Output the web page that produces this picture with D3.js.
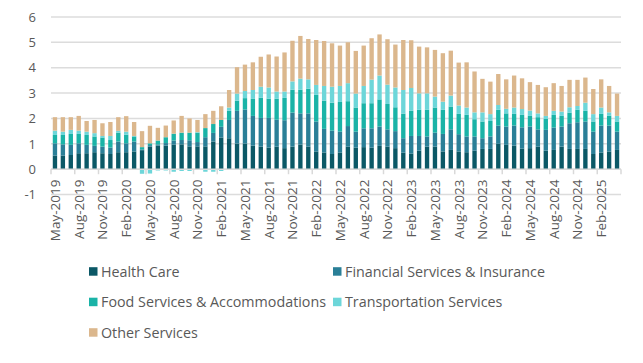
<!DOCTYPE html>
<html>
<head>
<meta charset="utf-8">
<script src="https://cdn.jsdelivr.net/npm/d3@7"></script>
<style>
  html, body { margin: 0; padding: 0; background: #ffffff; }
  svg { display: block; }
  text { font-family: "Open Sans", sans-serif; fill: #595959; }
</style>
</head>
<body>
<svg id="chart" width="643" height="363"></svg>
<script>
// ---------- data ----------
const months = [
  "May-2019","Jun-2019","Jul-2019","Aug-2019","Sep-2019","Oct-2019","Nov-2019","Dec-2019",
  "Jan-2020","Feb-2020","Mar-2020","Apr-2020","May-2020","Jun-2020","Jul-2020","Aug-2020",
  "Sep-2020","Oct-2020","Nov-2020","Dec-2020","Jan-2021","Feb-2021","Mar-2021","Apr-2021",
  "May-2021","Jun-2021","Jul-2021","Aug-2021","Sep-2021","Oct-2021","Nov-2021","Dec-2021",
  "Jan-2022","Feb-2022","Mar-2022","Apr-2022","May-2022","Jun-2022","Jul-2022","Aug-2022",
  "Sep-2022","Oct-2022","Nov-2022","Dec-2022","Jan-2023","Feb-2023","Mar-2023","Apr-2023",
  "May-2023","Jun-2023","Jul-2023","Aug-2023","Sep-2023","Oct-2023","Nov-2023","Dec-2023",
  "Jan-2024","Feb-2024","Mar-2024","Apr-2024","May-2024","Jun-2024","Jul-2024","Aug-2024",
  "Sep-2024","Oct-2024","Nov-2024","Dec-2024","Jan-2025","Feb-2025","Mar-2025","Apr-2025"
];
const tickLabels = [
  "May-2019","Aug-2019","Nov-2019","Feb-2020","May-2020","Aug-2020","Nov-2020","Feb-2021",
  "May-2021","Aug-2021","Nov-2021","Feb-2022","May-2022","Aug-2022","Nov-2022","Feb-2023",
  "May-2023","Aug-2023","Nov-2023","Feb-2024","May-2024","Aug-2024","Nov-2024","Feb-2025"
];
const yTicks = [-1, 0, 1, 2, 3, 4, 5, 6];

const seriesNames = ["Health Care", "Financial Services & Insurance",
  "Food Services & Accommodations", "Transportation Services", "Other Services"];

const healthCare = [
  0.54,0.54,0.56,0.63,0.63,0.67,0.63,0.60,0.67,0.67,0.70,0.75,0.89,0.93,0.93,0.97,
  0.98,0.90,0.90,0.90,1.09,1.25,1.22,1.01,1.01,0.93,0.89,0.85,0.89,0.83,0.89,0.97,
  0.89,0.70,0.66,0.60,0.66,0.89,0.85,0.87,0.85,0.92,0.89,0.83,0.65,0.62,0.73,0.89,
  0.89,0.70,0.76,0.70,0.67,0.73,0.80,0.80,1.00,0.96,0.93,0.81,0.83,0.89,0.73,0.76,
  0.89,0.80,0.80,0.80,0.60,0.66,0.70,0.76
];
const financial = [
  0.48,0.44,0.40,0.39,0.33,0.25,0.26,0.25,0.42,0.35,0.39,0.03,0.06,0.05,0.10,0.16,
  0.17,0.24,0.17,0.36,0.34,0.42,0.72,1.29,1.34,1.17,1.13,1.17,1.06,1.10,1.34,1.23,
  1.31,1.18,0.93,0.92,0.82,0.81,0.63,0.74,0.76,0.76,0.68,0.67,0.57,0.69,0.58,0.40,
  0.55,0.69,0.81,0.68,0.62,0.56,0.42,0.49,0.72,0.72,0.79,0.84,0.85,0.68,0.82,0.88,
  0.79,1.01,1.05,1.08,0.88,1.06,1.02,0.72
];
const foodServices = [
  0.33,0.37,0.43,0.37,0.39,0.37,0.36,0.30,0.35,0.34,0.20,0.09,0.07,0.15,0.23,0.27,
  0.29,0.30,0.37,0.36,0.35,0.27,0.36,0.40,0.45,0.67,0.80,0.76,0.83,0.88,0.90,0.93,
  0.97,1.05,1.11,1.10,1.17,0.98,0.95,0.99,0.99,1.07,1.00,0.94,0.97,0.99,1.03,1.05,
  0.99,0.95,0.90,0.80,0.85,0.68,0.66,0.61,0.62,0.52,0.46,0.49,0.42,0.48,0.43,0.50,
  0.42,0.42,0.49,0.42,0.40,0.46,0.39,0.40
];
const transportation = [
  0.17,0.13,0.16,0.13,0.13,0.13,0.06,0.16,0.07,0.12,0.02,-0.18,-0.17,-0.05,-0.05,-0.10,
  -0.07,-0.07,0.02,-0.10,-0.10,-0.07,0.13,0.28,0.28,0.35,0.43,0.44,0.28,0.25,0.33,0.44,
  0.37,0.39,0.58,0.63,0.63,0.71,0.55,0.68,0.93,0.94,0.76,0.78,0.93,0.90,0.65,0.65,
  0.43,0.32,0.43,0.33,0.29,0.27,0.36,0.27,0.19,0.18,0.25,0.23,0.21,0.15,0.12,0.16,
  0.17,0.21,0.15,0.32,0.29,0.25,0.13,0.22
];
const otherServices = [
  0.53,0.57,0.50,0.58,0.42,0.52,0.50,0.55,0.54,0.61,0.55,0.63,0.69,0.50,0.46,0.52,
  0.66,0.56,0.48,0.55,0.52,0.54,0.69,1.04,1.04,1.09,1.18,1.30,1.38,1.54,1.60,1.68,
  1.59,1.77,1.77,1.71,1.59,1.61,1.68,1.59,1.63,1.62,1.79,1.69,1.97,1.88,1.84,1.81,
  1.84,1.91,1.77,1.69,1.78,1.61,1.32,1.28,1.22,1.16,1.26,1.21,1.12,1.12,1.13,1.09,
  1.01,1.08,1.03,0.99,0.99,1.11,1.04,0.88
];
const colors = ["#0b5866", "#2a7f97", "#1ab3a7", "#6dd6d9", "#dbb78d"];

// ---------- build ----------
const keys = ["h", "f", "fo", "t", "o"];
const rows = months.map((m, i) => ({
  month: m, h: healthCare[i], f: financial[i], fo: foodServices[i],
  t: transportation[i], o: otherServices[i]
}));
const stacked = d3.stack().keys(keys).offset(d3.stackOffsetDiverging)(rows);

const svg = d3.select("#chart");
const left = 51, right = 621;

const x = d3.scaleBand().domain(months).range([left, right])
  .paddingInner(0.45).paddingOuter(0.225);
const y = d3.scaleLinear().domain([-1, 6]).range([194.6, 16.9]);

// gridlines
svg.append("g").selectAll("line").data(yTicks).join("line")
  .attr("x1", left).attr("x2", right)
  .attr("y1", d => y(d)).attr("y2", d => y(d))
  .attr("stroke", "#dcdcdc").attr("stroke-width", 1.5);

// y labels
svg.append("g").selectAll("text").data(yTicks).join("text")
  .attr("x", 36).attr("y", d => y(d)).attr("dy", "0.36em")
  .attr("text-anchor", "end").attr("font-size", 13).text(d => d);

// bars
svg.append("g").selectAll("g").data(stacked).join("g")
  .attr("fill", (d, i) => colors[i])
  .selectAll("rect").data(d => d).join("rect")
  .attr("x", d => x(d.data.month))
  .attr("width", x.bandwidth())
  .attr("y", d => y(Math.max(d[0], d[1])))
  .attr("height", d => Math.abs(y(d[0]) - y(d[1])));

// x axis line with ticks at every 3rd band boundary
const step = x.step();
const gap = step - x.bandwidth();
const tickPos = months.map((m, i) => i).filter(i => i % 3 === 0)
  .map(i => x(months[i]) - gap / 2).concat([right]);
svg.append("line").attr("x1", left).attr("x2", right)
  .attr("y1", y(0)).attr("y2", y(0))
  .attr("stroke", "#d9d9d9").attr("stroke-width", 1.5);
svg.append("g").selectAll("line").data(tickPos).join("line")
  .attr("x1", d => d).attr("x2", d => d)
  .attr("y1", y(0)).attr("y2", y(0) + 5)
  .attr("stroke", "#d9d9d9").attr("stroke-width", 1.5);

// x labels
svg.append("g").selectAll("text").data(tickLabels).join("text")
  .attr("transform", d => `translate(${x(d) + x.bandwidth() / 2},179.5) rotate(-90)`)
  .attr("dy", "0.36em").attr("text-anchor", "end")
  .attr("font-size", 13.5).text(d => d);

// legend
const legendPos = [[89, 276.5], [333, 276.5], [89, 307], [333, 307], [89, 337.5]];
const lg = svg.append("g").selectAll("g").data(seriesNames).join("g")
  .attr("transform", (d, i) => `translate(${legendPos[i][0]},${legendPos[i][1]})`);
lg.append("rect").attr("x", 0).attr("y", -9.3).attr("width", 8.5).attr("height", 8.5)
  .attr("fill", (d, i) => colors[i]);
lg.append("text").attr("x", 12).attr("y", 0).attr("font-size", 14.3).text(d => d);
</script>
</body>
</html>
